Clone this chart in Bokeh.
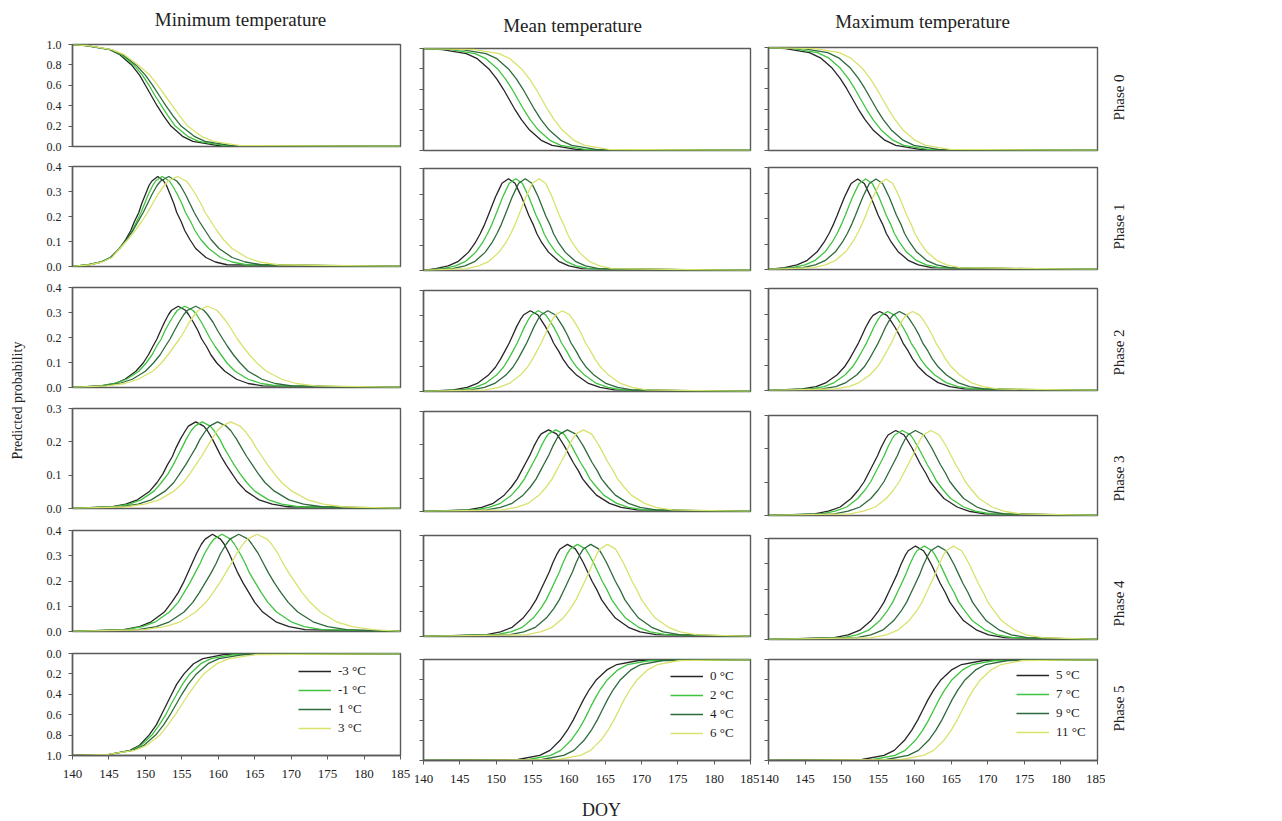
import math
from bokeh.plotting import figure
from bokeh.layouts import row, column
from bokeh.models import (Range1d, FixedTicker, PrintfTickFormatter, CustomJSTickFormatter, Label)
from bokeh.embed import file_html
from bokeh.resources import INLINE

FONT = "Liberation Serif"

# ------------------------------------------------------------------ data
DOY_START, DOY_END = 140, 185
X_TICKS = [140, 145, 150, 155, 160, 165, 170, 175, 180, 185]

COLUMN_TITLES = ["Minimum temperature", "Mean temperature", "Maximum temperature"]
PHASE_LABELS = ["Phase 0", "Phase 1", "Phase 2", "Phase 3", "Phase 4", "Phase 5"]
Y_TITLE = "Predicted probability"
X_TITLE = "DOY"

SERIES_MIN = ["-3 °C", "-1 °C", "1 °C", "3 °C"]
SERIES_MEAN = ["0 °C", "2 °C", "4 °C", "6 °C"]
SERIES_MAX = ["5 °C", "7 °C", "9 °C", "11 °C"]
COLORS = ["#262626", "#3fc43f", "#2e6a3c", "#d9e26c"]

# Phase 0 / Phase 5: DOY at which each curve passes these probability levels
CUM_LEVELS = [1.0, 0.99, 0.95, 0.9, 0.8, 0.7, 0.6, 0.5, 0.4, 0.3, 0.2, 0.1, 0.05, 0.01, 0.0]

P0_MIN = [
    [140, 141.8, 145.1, 146.5, 148.1, 149.2, 150.0, 150.8, 151.6, 152.5, 153.5, 155.1, 156.5, 159.8, 185],
    [140, 141.9, 145.2, 146.7, 148.4, 149.6, 150.5, 151.3, 152.2, 153.1, 154.1, 155.8, 157.3, 160.7, 185],
    [140, 142.0, 145.3, 146.9, 148.7, 150.0, 151.0, 151.9, 152.8, 153.8, 154.9, 156.7, 158.2, 161.6, 185],
    [140, 142.1, 145.4, 147.1, 149.0, 150.6, 151.7, 152.7, 153.7, 154.7, 155.8, 157.7, 159.3, 162.8, 185],
]
P0_MEAN = [
    [140, 142.6, 145.9, 147.4, 149.0, 150.1, 151.0, 151.8, 152.6, 153.5, 154.6, 156.2, 157.7, 161.0, 185],
    [140, 143.8, 147.1, 148.6, 150.2, 151.3, 152.2, 153.0, 153.8, 154.7, 155.8, 157.4, 158.9, 162.2, 185],
    [140, 145.3, 148.6, 150.1, 151.7, 152.8, 153.7, 154.5, 155.3, 156.2, 157.3, 158.9, 160.4, 163.7, 185],
    [140, 147.1, 150.4, 151.9, 153.5, 154.6, 155.5, 156.3, 157.1, 158.0, 159.1, 160.7, 162.2, 165.5, 185],
]
P0_MAX = [
    [140, 142.3, 145.6, 147.1, 148.7, 149.8, 150.7, 151.5, 152.3, 153.2, 154.3, 155.9, 157.4, 160.7, 185],
    [140, 143.4, 146.7, 148.2, 149.8, 150.9, 151.8, 152.6, 153.4, 154.3, 155.4, 157.0, 158.5, 161.8, 185],
    [140, 144.8, 148.1, 149.6, 151.2, 152.3, 153.2, 154.0, 154.8, 155.7, 156.8, 158.4, 159.9, 163.2, 185],
    [140, 146.4, 149.7, 151.2, 152.8, 153.9, 154.8, 155.6, 156.4, 157.3, 158.4, 160.0, 161.5, 164.8, 185],
]
P5_MIN = [
    [140, 145.1, 147.9, 149.2, 150.5, 151.5, 152.2, 152.9, 153.6, 154.3, 155.3, 156.6, 157.9, 160.7, 185],
    [140, 145.0, 148.1, 149.4, 150.9, 151.9, 152.8, 153.5, 154.3, 155.1, 156.1, 157.6, 159.0, 162.0, 185],
    [140, 145.0, 148.3, 149.8, 151.4, 152.5, 153.4, 154.2, 155.0, 155.9, 157.0, 158.6, 160.1, 163.4, 185],
    [140, 144.9, 148.5, 150.2, 152.0, 153.1, 154.1, 155.0, 155.9, 156.9, 158.0, 159.8, 161.5, 165.1, 185],
]
P5_MEAN = [
    [140, 153.0, 156.0, 157.4, 158.8, 159.8, 160.6, 161.3, 162.0, 162.8, 163.8, 165.3, 166.6, 169.6, 185],
    [140, 154.5, 157.5, 158.9, 160.3, 161.3, 162.1, 162.8, 163.5, 164.3, 165.3, 166.8, 168.1, 171.1, 185],
    [140, 156.3, 159.3, 160.7, 162.1, 163.1, 163.9, 164.6, 165.3, 166.1, 167.1, 168.6, 169.9, 172.9, 185],
    [140, 158.6, 161.6, 163.0, 164.4, 165.4, 166.2, 166.9, 167.6, 168.4, 169.4, 170.9, 172.2, 175.2, 185],
]
P5_MAX = [
    [140, 152.8, 155.8, 157.2, 158.6, 159.6, 160.4, 161.1, 161.8, 162.6, 163.6, 165.1, 166.4, 169.4, 185],
    [140, 154.3, 157.3, 158.7, 160.1, 161.1, 161.9, 162.6, 163.3, 164.1, 165.1, 166.6, 167.9, 170.9, 185],
    [140, 156.1, 159.1, 160.5, 161.9, 162.9, 163.7, 164.4, 165.1, 165.9, 166.9, 168.4, 169.7, 172.7, 185],
    [140, 158.2, 161.2, 162.6, 164.0, 165.0, 165.8, 166.5, 167.2, 168.0, 169.0, 170.5, 171.8, 174.8, 185],
]

# Phases 1-4: probability levels on the rising side up to the peak (mirrored on the falling side)
# and the DOY of each level crossing (140, rising side, peak, falling side, 185)
P1_MIN_LEVELS = [0.0, 0.007, 0.018, 0.036, 0.072, 0.108, 0.144, 0.18, 0.216, 0.252, 0.288, 0.324, 0.342, 0.36]
P1_MIN = [
    [140, 142.2, 143.9, 145.2, 146.5, 147.3, 148.0, 148.5, 149.1, 149.5, 150.0, 150.5, 150.9, 151.7, 152.5, 152.9, 153.4, 153.9, 154.3, 154.9, 155.4, 156.1, 156.9, 158.3, 159.6, 161.2, 185],
    [140, 142.2, 143.9, 145.2, 146.5, 147.5, 148.2, 148.8, 149.4, 149.9, 150.4, 151.0, 151.4, 152.3, 153.3, 153.7, 154.4, 155.0, 155.5, 156.2, 156.8, 157.6, 158.7, 160.3, 161.9, 163.9, 185],
    [140, 142.3, 144.0, 145.3, 146.4, 147.4, 148.3, 149.0, 149.7, 150.3, 150.9, 151.6, 152.1, 153.2, 154.3, 154.8, 155.5, 156.1, 156.7, 157.4, 158.2, 159.0, 160.1, 161.9, 163.7, 165.9, 185],
    [140, 142.4, 144.1, 145.4, 146.5, 147.6, 148.6, 149.5, 150.3, 151.0, 151.7, 152.6, 153.1, 154.4, 155.6, 156.1, 156.9, 157.6, 158.2, 159.0, 159.8, 160.7, 161.9, 163.9, 165.7, 168.2, 185],
]
P1_MEAN_LEVELS = [0.0, 0.007, 0.018, 0.036, 0.072, 0.108, 0.144, 0.18, 0.216, 0.252, 0.288, 0.324, 0.342, 0.36]
P1_MEAN = [
    [140, 141.7, 143.4, 144.8, 146.2, 147.1, 147.8, 148.4, 148.9, 149.4, 149.9, 150.5, 150.8, 151.7, 152.6, 152.9, 153.5, 154.0, 154.5, 155.1, 155.6, 156.3, 157.2, 158.6, 160.0, 161.8, 185],
    [140, 142.7, 144.4, 145.8, 147.2, 148.1, 148.8, 149.4, 149.9, 150.4, 150.9, 151.5, 151.8, 152.7, 153.6, 153.9, 154.5, 155.0, 155.5, 156.1, 156.6, 157.3, 158.2, 159.6, 161.0, 162.8, 185],
    [140, 144.0, 145.7, 147.1, 148.5, 149.4, 150.1, 150.7, 151.2, 151.7, 152.2, 152.8, 153.1, 154.0, 154.9, 155.2, 155.8, 156.3, 156.8, 157.4, 157.9, 158.6, 159.5, 160.9, 162.3, 164.1, 185],
    [140, 145.9, 147.6, 149.0, 150.4, 151.3, 152.0, 152.6, 153.1, 153.6, 154.1, 154.7, 155.0, 155.9, 156.8, 157.1, 157.7, 158.2, 158.7, 159.3, 159.8, 160.5, 161.4, 162.8, 164.2, 166.0, 185],
]
P1_MAX_LEVELS = [0.0, 0.007, 0.018, 0.036, 0.071, 0.107, 0.142, 0.178, 0.213, 0.249, 0.284, 0.32, 0.337, 0.355]
P1_MAX = [
    [140, 142.2, 143.9, 145.3, 146.7, 147.6, 148.3, 148.9, 149.4, 149.9, 150.4, 151.0, 151.3, 152.2, 153.1, 153.4, 154.0, 154.5, 155.0, 155.6, 156.1, 156.8, 157.7, 159.1, 160.5, 162.3, 185],
    [140, 143.3, 145.0, 146.4, 147.8, 148.7, 149.4, 150.0, 150.5, 151.0, 151.5, 152.1, 152.4, 153.3, 154.2, 154.5, 155.1, 155.6, 156.1, 156.7, 157.2, 157.9, 158.8, 160.2, 161.6, 163.4, 185],
    [140, 144.7, 146.4, 147.8, 149.2, 150.1, 150.8, 151.4, 151.9, 152.4, 152.9, 153.5, 153.8, 154.7, 155.6, 155.9, 156.5, 157.0, 157.5, 158.1, 158.6, 159.3, 160.2, 161.6, 163.0, 164.8, 185],
    [140, 146.1, 147.8, 149.2, 150.6, 151.5, 152.2, 152.8, 153.3, 153.8, 154.3, 154.9, 155.2, 156.1, 157.0, 157.3, 157.9, 158.4, 158.9, 159.5, 160.0, 160.7, 161.6, 163.0, 164.4, 166.2, 185],
]
P2_MIN_LEVELS = [0.0, 0.0065, 0.016, 0.033, 0.065, 0.098, 0.13, 0.163, 0.195, 0.228, 0.26, 0.293, 0.309, 0.325]
P2_MIN = [
    [140, 143.9, 145.8, 147.2, 148.7, 149.7, 150.4, 151.0, 151.6, 152.1, 152.6, 153.2, 153.6, 154.5, 155.5, 155.9, 156.6, 157.2, 157.7, 158.4, 159.0, 159.8, 160.9, 162.5, 164.1, 166.1, 185],
    [140, 143.8, 145.8, 147.4, 149.1, 150.1, 150.9, 151.5, 152.2, 152.7, 153.3, 154.0, 154.4, 155.4, 156.5, 157.0, 157.7, 158.3, 158.9, 159.6, 160.4, 161.2, 162.3, 164.1, 165.9, 168.1, 185],
    [140, 144.2, 146.4, 148.2, 150.0, 151.1, 152.0, 152.7, 153.4, 154.0, 154.6, 155.3, 155.8, 156.9, 158.0, 158.5, 159.3, 159.9, 160.6, 161.3, 162.1, 163.0, 164.1, 166.0, 167.8, 170.1, 185],
    [140, 144.7, 147.2, 149.0, 151.0, 152.2, 153.1, 153.9, 154.7, 155.4, 156.0, 156.8, 157.3, 158.5, 159.8, 160.3, 161.2, 161.9, 162.6, 163.4, 164.3, 165.3, 166.6, 168.7, 170.7, 173.3, 185],
]
P2_MEAN_LEVELS = [0.0, 0.0064, 0.016, 0.032, 0.064, 0.096, 0.128, 0.16, 0.192, 0.224, 0.256, 0.288, 0.304, 0.32]
P2_MEAN = [
    [140, 144.1, 146.0, 147.4, 148.9, 149.9, 150.6, 151.2, 151.8, 152.3, 152.8, 153.4, 153.8, 154.7, 155.7, 156.1, 156.8, 157.4, 157.9, 158.6, 159.2, 160.0, 161.1, 162.7, 164.3, 166.3, 185],
    [140, 145.2, 147.1, 148.5, 150.0, 151.0, 151.7, 152.3, 152.9, 153.4, 153.9, 154.5, 154.9, 155.8, 156.8, 157.2, 157.9, 158.5, 159.0, 159.7, 160.3, 161.1, 162.2, 163.8, 165.4, 167.4, 185],
    [140, 146.5, 148.4, 149.8, 151.3, 152.3, 153.0, 153.6, 154.2, 154.7, 155.2, 155.8, 156.2, 157.1, 158.1, 158.5, 159.2, 159.8, 160.3, 161.0, 161.6, 162.4, 163.5, 165.1, 166.7, 168.7, 185],
    [140, 148.5, 150.4, 151.8, 153.3, 154.3, 155.0, 155.6, 156.2, 156.7, 157.2, 157.8, 158.2, 159.1, 160.1, 160.5, 161.2, 161.8, 162.3, 163.0, 163.6, 164.4, 165.5, 167.1, 168.7, 170.7, 185],
]
P2_MAX_LEVELS = [0.0, 0.0062, 0.0155, 0.031, 0.062, 0.093, 0.124, 0.155, 0.186, 0.217, 0.248, 0.279, 0.2945, 0.31]
P2_MAX = [
    [140, 144.6, 146.5, 147.9, 149.4, 150.4, 151.1, 151.7, 152.3, 152.8, 153.3, 153.9, 154.3, 155.2, 156.2, 156.6, 157.3, 157.9, 158.4, 159.1, 159.7, 160.5, 161.6, 163.2, 164.8, 166.8, 185],
    [140, 145.7, 147.6, 149.0, 150.5, 151.5, 152.2, 152.8, 153.4, 153.9, 154.4, 155.0, 155.4, 156.3, 157.3, 157.7, 158.4, 159.0, 159.5, 160.2, 160.8, 161.6, 162.7, 164.3, 165.9, 167.9, 185],
    [140, 147.3, 149.2, 150.6, 152.1, 153.1, 153.8, 154.4, 155.0, 155.5, 156.0, 156.6, 157.0, 157.9, 158.9, 159.3, 160.0, 160.6, 161.1, 161.8, 162.4, 163.2, 164.3, 165.9, 167.5, 169.5, 185],
    [140, 149.1, 151.0, 152.4, 153.9, 154.9, 155.6, 156.2, 156.8, 157.3, 157.8, 158.4, 158.8, 159.7, 160.7, 161.1, 161.8, 162.4, 162.9, 163.6, 164.2, 165.0, 166.1, 167.7, 169.3, 171.3, 185],
]
P3_MIN_LEVELS = [0.0, 0.0052, 0.013, 0.026, 0.052, 0.078, 0.104, 0.13, 0.156, 0.182, 0.208, 0.234, 0.247, 0.26]
P3_MIN = [
    [140, 145.3, 147.3, 148.9, 150.6, 151.6, 152.4, 153.0, 153.7, 154.2, 154.8, 155.5, 155.9, 156.9, 158.0, 158.5, 159.2, 159.8, 160.4, 161.1, 161.9, 162.7, 163.8, 165.6, 167.4, 169.6, 185],
    [140, 145.6, 147.8, 149.4, 151.2, 152.2, 153.1, 153.8, 154.4, 155.0, 155.6, 156.3, 156.8, 157.8, 158.9, 159.4, 160.2, 160.8, 161.5, 162.2, 163.0, 163.9, 165.0, 166.9, 168.7, 171.0, 185],
    [140, 146.7, 149.0, 150.8, 152.7, 153.9, 154.7, 155.5, 156.2, 156.9, 157.5, 158.3, 158.8, 159.9, 161.1, 161.7, 162.5, 163.2, 163.9, 164.7, 165.5, 166.4, 167.7, 169.7, 171.7, 174.2, 185],
    [140, 147.4, 149.9, 151.9, 153.9, 155.2, 156.1, 156.9, 157.7, 158.4, 159.1, 159.9, 160.5, 161.7, 163.0, 163.6, 164.5, 165.2, 166.0, 166.8, 167.7, 168.7, 170.1, 172.3, 174.4, 177.1, 185],
]
P3_MEAN_LEVELS = [0.0, 0.0049, 0.0123, 0.0245, 0.049, 0.0735, 0.098, 0.1225, 0.147, 0.1715, 0.196, 0.2205, 0.2328, 0.245]
P3_MEAN = [
    [140, 146.1, 148.0, 149.6, 151.1, 152.1, 152.9, 153.5, 154.1, 154.7, 155.2, 155.8, 156.2, 157.2, 158.3, 158.7, 159.4, 160.0, 160.6, 161.3, 161.9, 162.8, 163.8, 165.6, 167.2, 169.4, 185],
    [140, 147.1, 149.0, 150.6, 152.1, 153.1, 153.9, 154.5, 155.1, 155.7, 156.2, 156.8, 157.2, 158.2, 159.3, 159.7, 160.4, 161.0, 161.6, 162.3, 162.9, 163.8, 164.8, 166.6, 168.2, 170.4, 185],
    [140, 148.7, 150.6, 152.2, 153.7, 154.7, 155.5, 156.1, 156.7, 157.3, 157.8, 158.4, 158.8, 159.8, 160.9, 161.3, 162.0, 162.6, 163.2, 163.9, 164.5, 165.4, 166.4, 168.2, 169.8, 172.0, 185],
    [140, 150.9, 152.8, 154.4, 155.9, 156.9, 157.7, 158.3, 158.9, 159.5, 160.0, 160.6, 161.0, 162.0, 163.1, 163.5, 164.2, 164.8, 165.4, 166.1, 166.7, 167.6, 168.6, 170.4, 172.0, 174.2, 185],
]
P3_MAX_LEVELS = [0.0, 0.0051, 0.0128, 0.0255, 0.051, 0.0765, 0.102, 0.1275, 0.153, 0.1785, 0.204, 0.2295, 0.2423, 0.255]
P3_MAX = [
    [140, 146.3, 148.2, 149.8, 151.3, 152.3, 153.1, 153.7, 154.3, 154.9, 155.4, 156.0, 156.4, 157.4, 158.5, 158.9, 159.6, 160.2, 160.8, 161.5, 162.1, 163.0, 164.0, 165.8, 167.4, 169.6, 185],
    [140, 147.2, 149.1, 150.7, 152.2, 153.2, 154.0, 154.6, 155.2, 155.8, 156.3, 156.9, 157.3, 158.3, 159.4, 159.8, 160.5, 161.1, 161.7, 162.4, 163.0, 163.9, 164.9, 166.7, 168.3, 170.5, 185],
    [140, 149.0, 150.9, 152.5, 154.0, 155.0, 155.8, 156.4, 157.0, 157.6, 158.1, 158.7, 159.1, 160.1, 161.2, 161.6, 162.3, 162.9, 163.5, 164.2, 164.8, 165.7, 166.7, 168.5, 170.1, 172.3, 185],
    [140, 151.1, 153.0, 154.6, 156.1, 157.1, 157.9, 158.5, 159.1, 159.7, 160.2, 160.8, 161.2, 162.2, 163.3, 163.7, 164.4, 165.0, 165.6, 166.3, 166.9, 167.8, 168.8, 170.6, 172.2, 174.4, 185],
]
P4_MIN_LEVELS = [0.0, 0.0077, 0.0193, 0.0385, 0.077, 0.1155, 0.154, 0.1925, 0.231, 0.2695, 0.308, 0.3465, 0.3658, 0.385]
P4_MIN = [
    [140, 147.0, 149.2, 150.8, 152.6, 153.6, 154.5, 155.2, 155.8, 156.4, 157.0, 157.7, 158.2, 159.2, 160.3, 160.8, 161.5, 162.1, 162.7, 163.4, 164.2, 165.0, 166.1, 167.9, 169.7, 171.9, 185],
    [140, 147.3, 149.6, 151.4, 153.3, 154.5, 155.3, 156.1, 156.8, 157.5, 158.1, 158.9, 159.4, 160.5, 161.7, 162.2, 163.0, 163.7, 164.3, 165.1, 165.9, 166.8, 168.0, 170.0, 171.8, 174.3, 185],
    [140, 149.0, 151.5, 153.3, 155.3, 156.5, 157.4, 158.2, 159.0, 159.7, 160.3, 161.1, 161.6, 162.8, 164.1, 164.6, 165.5, 166.2, 166.9, 167.7, 168.6, 169.6, 170.9, 173.0, 175.0, 177.6, 185],
    [140, 149.9, 152.7, 154.8, 156.9, 158.3, 159.3, 160.2, 161.0, 161.8, 162.5, 163.4, 164.0, 165.3, 166.7, 167.3, 168.2, 168.9, 169.7, 170.6, 171.5, 172.6, 174.0, 176.2, 178.4, 181.2, 185],
]
P4_MEAN_LEVELS = [0.0, 0.0073, 0.0183, 0.0365, 0.073, 0.1095, 0.146, 0.1825, 0.219, 0.2555, 0.292, 0.3285, 0.3468, 0.365]
P4_MEAN = [
    [140, 148.7, 150.6, 152.2, 153.7, 154.7, 155.5, 156.1, 156.7, 157.3, 157.8, 158.4, 158.8, 159.8, 160.9, 161.3, 162.0, 162.6, 163.2, 163.9, 164.5, 165.4, 166.4, 168.2, 169.8, 172.0, 185],
    [140, 150.1, 152.0, 153.6, 155.1, 156.1, 156.9, 157.5, 158.1, 158.7, 159.2, 159.8, 160.2, 161.2, 162.3, 162.7, 163.4, 164.0, 164.6, 165.3, 165.9, 166.8, 167.8, 169.6, 171.2, 173.4, 185],
    [140, 151.9, 153.8, 155.4, 156.9, 157.9, 158.7, 159.3, 159.9, 160.5, 161.0, 161.6, 162.0, 163.0, 164.1, 164.5, 165.2, 165.8, 166.4, 167.1, 167.7, 168.6, 169.6, 171.4, 173.0, 175.2, 185],
    [140, 154.2, 156.1, 157.7, 159.2, 160.2, 161.0, 161.6, 162.2, 162.8, 163.3, 163.9, 164.3, 165.3, 166.4, 166.8, 167.5, 168.1, 168.7, 169.4, 170.0, 170.9, 171.9, 173.7, 175.3, 177.5, 185],
]
P4_MAX_LEVELS = [0.0, 0.0074, 0.0185, 0.037, 0.074, 0.111, 0.148, 0.185, 0.222, 0.259, 0.296, 0.333, 0.3515, 0.37]
P4_MAX = [
    [140, 149.0, 150.9, 152.5, 154.0, 155.0, 155.8, 156.4, 157.0, 157.6, 158.1, 158.7, 159.1, 160.1, 161.2, 161.6, 162.3, 162.9, 163.5, 164.2, 164.8, 165.7, 166.7, 168.5, 170.1, 172.3, 185],
    [140, 150.2, 152.1, 153.7, 155.2, 156.2, 157.0, 157.6, 158.2, 158.8, 159.3, 159.9, 160.3, 161.3, 162.4, 162.8, 163.5, 164.1, 164.7, 165.4, 166.0, 166.9, 167.9, 169.7, 171.3, 173.5, 185],
    [140, 152.1, 154.0, 155.6, 157.1, 158.1, 158.9, 159.5, 160.1, 160.7, 161.2, 161.8, 162.2, 163.2, 164.3, 164.7, 165.4, 166.0, 166.6, 167.3, 167.9, 168.8, 169.8, 171.6, 173.2, 175.4, 185],
    [140, 154.2, 156.1, 157.7, 159.2, 160.2, 161.0, 161.6, 162.2, 162.8, 163.3, 163.9, 164.3, 165.3, 166.4, 166.8, 167.5, 168.1, 168.7, 169.4, 170.0, 170.9, 171.9, 173.7, 175.3, 177.5, 185],
]


def bell(levels):
    return levels + levels[-2::-1]


PANEL_DOYS = [
    [P0_MIN, P0_MEAN, P0_MAX],
    [P1_MIN, P1_MEAN, P1_MAX],
    [P2_MIN, P2_MEAN, P2_MAX],
    [P3_MIN, P3_MEAN, P3_MAX],
    [P4_MIN, P4_MEAN, P4_MAX],
    [P5_MIN, P5_MEAN, P5_MAX],
]
PANEL_PROBS = [
    [CUM_LEVELS] * 3,
    [bell(P1_MIN_LEVELS), bell(P1_MEAN_LEVELS), bell(P1_MAX_LEVELS)],
    [bell(P2_MIN_LEVELS), bell(P2_MEAN_LEVELS), bell(P2_MAX_LEVELS)],
    [bell(P3_MIN_LEVELS), bell(P3_MEAN_LEVELS), bell(P3_MAX_LEVELS)],
    [bell(P4_MIN_LEVELS), bell(P4_MEAN_LEVELS), bell(P4_MAX_LEVELS)],
    [CUM_LEVELS] * 3,
]
SERIES = [SERIES_MIN, SERIES_MEAN, SERIES_MAX]

# y axis per phase row: (start, end, ticks)
ROW_AXES = [
    (0.0, 1.0, [0.0, 0.2, 0.4, 0.6, 0.8, 1.0]),
    (0.0, 0.4, [0.0, 0.1, 0.2, 0.3, 0.4]),
    (0.0, 0.4, [0.0, 0.1, 0.2, 0.3, 0.4]),
    (0.0, 0.3, [0.0, 0.1, 0.2, 0.3]),
    (0.0, 0.4, [0.0, 0.1, 0.2, 0.3, 0.4]),
    (1.0, 0.0, [0.0, 0.2, 0.4, 0.6, 0.8, 1.0]),
]

# ------------------------------------------------------------------ layout geometry (page pixels)
FULL_W = 1140
HEADER_H = 37
BODY_TOP, BODY_BOTTOM = 37, 795
FOOTER_H = 821 - BODY_BOTTOM
BODY_H = BODY_BOTTOM - BODY_TOP
LEFT_W = 32
RIGHT_W = 35
COL_EDGES = [32, 411, 759, 1105]
FRAME_X = [(72, 400), (423, 750), (768, 1097)]
FRAME_Y = [
    [(44, 146), (166, 266), (287, 387), (408, 508), (530, 631), (653, 755)],
    [(48, 150), (168, 270), (290, 391), (411, 511), (535, 636), (659, 760)],
    [(47, 150), (167, 269), (288, 390), (415, 515), (538, 639), (659, 760)],
]
SPLITS = [
    [37, 156, 276, 397, 519, 642, 795],
    [37, 159, 280, 401, 523, 647, 795],
    [37, 158, 278, 402, 526, 649, 795],
]
TITLE_POS = [(240, 19), (572, 25), (922, 21)]
DOY_POS = (601, 809)
YTITLE_POS = (17, 400)
PHASE_POS_X = 1118
PHASE_POS_Y = [97, 226, 352, 478, 603, 708]
LEGEND_LOC = [(226, 19), (247, 19), (248, 20)]

AXIS_COLOR = "#5a5a5a"
TEXT_COLOR = "#222222"


def make_panel(ci, ri):
    fx0, fx1 = FRAME_X[ci]
    fy0, fy1 = FRAME_Y[ci][ri]
    top, bottom = SPLITS[ci][ri], SPLITS[ci][ri + 1]
    left, right = COL_EDGES[ci], COL_EDGES[ci + 1]
    ys, ye, yticks = ROW_AXES[ri]
    p = figure(width=right - left, height=bottom - top,
               min_border_left=fx0 - left, min_border_right=right - fx1,
               min_border_top=fy0 - top, min_border_bottom=bottom - fy1,
               x_range=Range1d(DOY_START, DOY_END), y_range=Range1d(ys, ye),
               x_axis_location="below" if ri == 5 else None, y_axis_location="left",
               output_backend="svg", toolbar_location=None)
    p.background_fill_color = "white"
    p.border_fill_color = None
    p.outline_line_color = AXIS_COLOR
    p.outline_line_width = 1.4
    p.xgrid.grid_line_color = None
    p.ygrid.grid_line_color = None

    ya = p.yaxis[0]
    ya.ticker = FixedTicker(ticks=yticks)
    ya.minor_tick_line_color = None
    ya.major_tick_in = 0
    ya.major_tick_out = 4
    ya.axis_line_color = AXIS_COLOR
    ya.axis_line_width = 1.4
    ya.major_tick_line_color = AXIS_COLOR
    if ci == 0:
        ya.formatter = PrintfTickFormatter(format="%.1f")
        ya.major_label_standoff = 7
        ya.major_label_text_font = FONT
        ya.major_label_text_font_size = "12px"
        ya.major_label_text_color = TEXT_COLOR
    else:
        ya.formatter = CustomJSTickFormatter(code="return ''")
        ya.major_label_standoff = 0

    if ri == 5:
        xa = p.xaxis[0]
        xa.ticker = FixedTicker(ticks=X_TICKS)
        xa.minor_tick_line_color = None
        xa.major_tick_in = 0
        xa.major_tick_out = 4
        xa.axis_line_color = AXIS_COLOR
        xa.axis_line_width = 1.4
        xa.major_tick_line_color = AXIS_COLOR
        xa.major_label_standoff = 10
        xa.major_label_text_font = FONT
        xa.major_label_text_font_size = "13px"
        xa.major_label_text_color = TEXT_COLOR

    doys = PANEL_DOYS[ri][ci]
    probs = PANEL_PROBS[ri][ci]
    for k in range(4):
        kw = {}
        if ri == 5:
            kw["legend_label"] = SERIES[ci][k]
        p.line(doys[k], probs, line_color=COLORS[k], line_width=1.3, **kw)

    if ri == 5:
        lg = p.legend[0]
        lg.location = LEGEND_LOC[ci]
        lg.border_line_color = None
        lg.background_fill_alpha = 0
        lg.label_text_font = FONT
        lg.label_text_font_size = "13px"
        lg.label_text_color = TEXT_COLOR
        lg.glyph_width = 33
        lg.glyph_height = 16
        lg.label_height = 16
        lg.spacing = 3
        lg.padding = 2
        lg.margin = 0
        lg.label_standoff = 7
    return p


def text_fig(width, height, top, items):
    """Blank figure whose data units are page pixels; items = (text, x, y, size, angle)."""
    p = figure(width=width, height=height, x_range=Range1d(0, width),
               y_range=Range1d(top + height, top),
               x_axis_type=None, y_axis_type=None,
               min_border_left=0, min_border_right=0, min_border_top=0, min_border_bottom=0,
               output_backend="svg", toolbar_location=None)
    p.outline_line_color = None
    p.background_fill_color = None
    p.border_fill_color = None
    for text, x, y, size, angle in items:
        p.add_layout(Label(x=x, y=y, text=text, angle=angle, text_align="center",
                           text_baseline="middle", text_font=FONT, text_font_size=size,
                           text_color=TEXT_COLOR))
    return p


header = text_fig(FULL_W, HEADER_H, 0,
                  [(COLUMN_TITLES[i], TITLE_POS[i][0], TITLE_POS[i][1], "19px", 0) for i in range(3)])
footer = text_fig(FULL_W, FOOTER_H, BODY_BOTTOM,
                  [(X_TITLE, DOY_POS[0], DOY_POS[1], "18px", 0)])
left_fig = text_fig(LEFT_W, BODY_H, BODY_TOP,
                    [(Y_TITLE, YTITLE_POS[0], YTITLE_POS[1], "14px", math.pi / 2)])
right_fig = text_fig(RIGHT_W, BODY_H, BODY_TOP,
                     [(PHASE_LABELS[i], PHASE_POS_X - COL_EDGES[3], PHASE_POS_Y[i], "15px", math.pi / 2)
                      for i in range(6)])

cols = []
for ci in range(3):
    cols.append(column(*[make_panel(ci, ri) for ri in range(6)], spacing=0))

body = row(left_fig, *cols, right_fig, spacing=0)
layout = column(header, body, footer, spacing=0)

with open("out.html", "w") as f:
    f.write(file_html(layout, INLINE, title="Predicted probability"))
